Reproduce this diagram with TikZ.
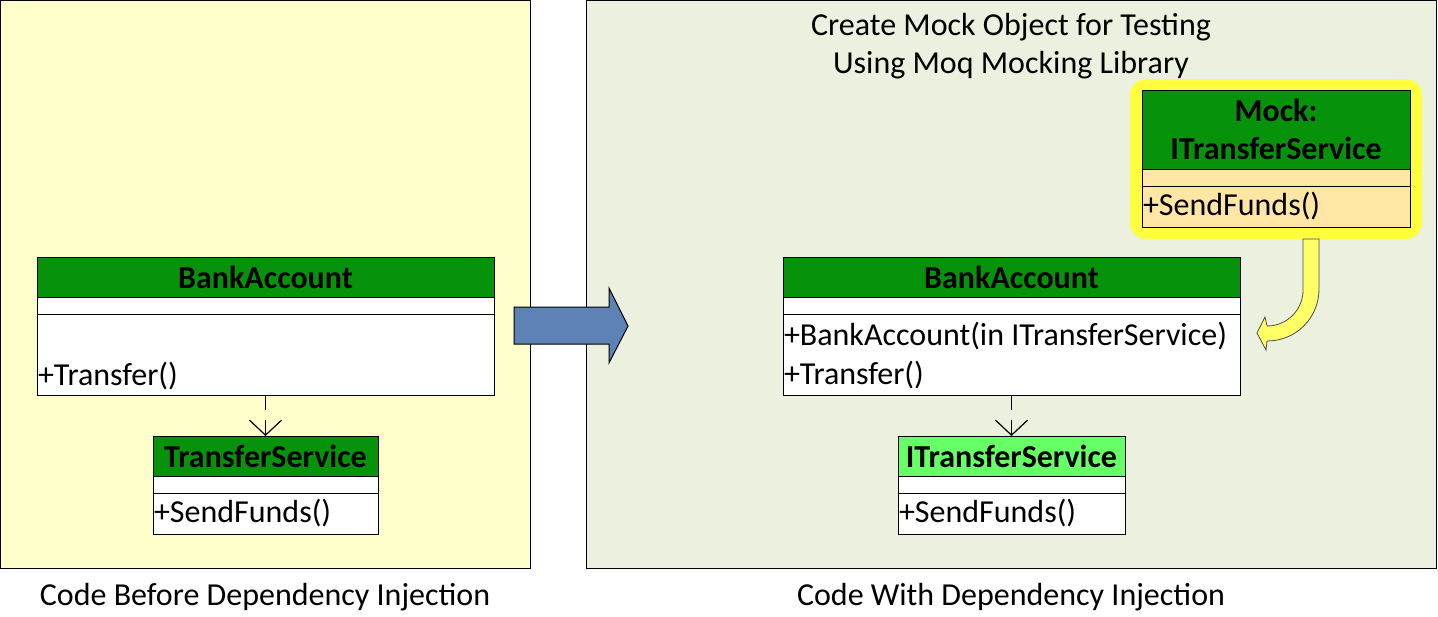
\documentclass[tikz,border=0pt]{standalone}
\usepackage{fontspec}
\setmainfont{Carlito}
\usetikzlibrary{positioning,arrows.meta}
\definecolor{headgreen}{RGB}{6,146,10}
\definecolor{ifacegreen}{RGB}{102,255,102}
\definecolor{leftpanel}{RGB}{255,255,204}
\definecolor{rightpanel}{RGB}{235,241,222}
\definecolor{mockops}{RGB}{255,230,165}
\definecolor{glow}{RGB}{255,255,64}
\definecolor{curvearrow}{RGB}{255,255,102}
\definecolor{bigarrow}{RGB}{94,129,182}
\begin{document}
\begin{tikzpicture}[x=0.5pt,y=-0.5pt,font=\fontsize{16}{19}\selectfont,
		box/.style={draw,line width=0.5pt,outer sep=0pt,inner sep=0pt,anchor=north west},
		classhead/.style={box,fill=headgreen,font=\fontsize{16}{19}\selectfont\bfseries,minimum height=20pt},
		classattr/.style={box,fill=white,minimum height=8.5pt},
		classops/.style={box,fill=white},
		optext/.style={inner sep=0pt,outer sep=0pt},
		depends/.style={line width=0.8pt,dash pattern=on 7.5pt off 5pt,-{Straight Barb[length=7.5pt,width=16pt,line width=0.6pt]}}]
		\useasboundingbox (0,0) rectangle (1438,616);
		\filldraw[fill=leftpanel,line width=0.5pt] (0.5,0.5) rectangle (530,568);
		\filldraw[fill=rightpanel,line width=0.5pt] (586,0.5) rectangle (1436.5,568);
		% before
		\node[classhead,minimum width=228.5pt] (bankL) at (37,257) {BankAccount};
		\node[classattr,minimum width=228.5pt,below=0pt of bankL] (bankLattr) {};
		\node[classops,minimum width=228.5pt,minimum height=40.5pt,below=0pt of bankLattr] (bankLops) {};
		\node[optext,anchor=base west] (bankLtransfer) at (38,385) {+Transfer()};
		\node[classhead,minimum width=112.5pt] (svcL) at (153,436) {TransferService};
		\node[classattr,minimum width=112.5pt,below=0pt of svcL] (svcLattr) {};
		\node[classops,minimum width=112.5pt,minimum height=20.5pt,below=0pt of svcLattr] (svcLops) {};
		\node[optext,anchor=west] (svcLsend) at ([xshift=0.5pt]svcLops.west) {+SendFunds()};
		\draw[depends] (bankLops.south) -- (svcL.north);
		\node (beforeLabel) at (265,597) {Code Before Dependency Injection};
		% big arrow
		\filldraw[fill=bigarrow,line width=0.5pt] (514,307) -- (609,307) -- (609,288) -- (628,326)
			-- (609,363) -- (609,344) -- (514,344) -- cycle;
		% with
		\node[align=center] (title) at (1011,46) {Create Mock Object for Testing\\Using Moq Mocking Library};
		\fill[glow,rounded corners=8pt] (1130,79) rectangle (1422,239);
		\node[classhead,minimum width=134pt,minimum height=39.5pt,align=center] (mock) at (1142,90) {Mock:\\ITransferService};
		\node[classattr,fill=mockops,minimum width=134pt,below=0pt of mock] (mockattr) {};
		\node[classops,fill=mockops,minimum width=134pt,minimum height=20.5pt,below=0pt of mockattr] (mockops) {};
		\node[optext,anchor=west] (mocksend) at ([xshift=0.5pt]mockops.west) {+SendFunds()};
		\filldraw[fill=curvearrow,draw=black!70,line width=0.4pt] (1303,239) -- (1303,290)
			.. controls (1303,310) and (1287,326) .. (1267,326) -- (1265,317) -- (1257,333)
			-- (1266,350) -- (1267,341) .. controls (1296,341) and (1319,318) .. (1319,289)
			-- (1319,239) -- cycle;
		\node[classhead,minimum width=228.5pt] (bankR) at (783,257) {BankAccount};
		\node[classattr,minimum width=228.5pt,below=0pt of bankR] (bankRattr) {};
		\node[classops,minimum width=228.5pt,minimum height=40.5pt,below=0pt of bankRattr] (bankRops) {};
		\node[optext,anchor=base west] (bankRctor) at (784,345) {+BankAccount(in ITransferService)};
		\node[optext,anchor=base west] (bankRtransfer) at (784,384) {+Transfer()};
		\node[classhead,fill=ifacegreen,minimum width=113.5pt] (ifaceR) at (898,436) {ITransferService};
		\node[classattr,minimum width=113.5pt,below=0pt of ifaceR] (ifaceRattr) {};
		\node[classops,minimum width=113.5pt,minimum height=20.5pt,below=0pt of ifaceRattr] (ifaceRops) {};
		\node[optext,anchor=west] (ifaceRsend) at ([xshift=0.5pt]ifaceRops.west) {+SendFunds()};
		\draw[depends] (bankRops.south) -- (ifaceR.north);
		\node (withLabel) at (1011,597) {Code With Dependency Injection};
	\end{tikzpicture}
\end{document}
